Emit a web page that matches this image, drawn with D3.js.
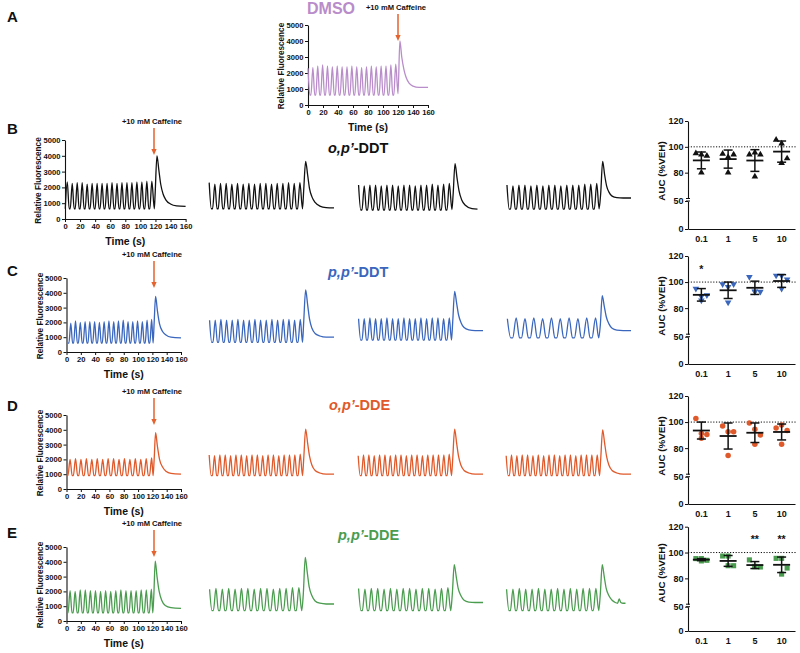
<!DOCTYPE html>
<html><head><meta charset="utf-8">
<script src="https://cdn.jsdelivr.net/npm/d3@7"></script>
<style>
body{margin:0;background:#fff}
svg{display:block}
text{font-family:"Liberation Sans",Arial,Helvetica,sans-serif;font-weight:bold;fill:#111}
</style>
</head><body>
<svg id="c" width="800" height="653"></svg>
<script>
// ---------------- DATA ----------------
const panelLetters = ["A","B","C","D","E"];
const titleItalic = ["", "o,p\u2019", "p,p\u2019", "o,p\u2019", "p,p\u2019"];
const titleRest   = ["DMSO", "-DDT", "-DDT", "-DDE", "-DDE"];
const caffeineLabel = "+10 mM Caffeine";
const fluorTicks = [0,1000,2000,3000,4000,5000];
const timeTicks  = [0,20,40,60,80,100,120,140,160];
const doses = ["0.1","1","5","10"];
const aucLowTicks = [0,50];
const aucHighTicks = [80,100,120];

// calcium traces: peak times (s), peak values, trough level, caffeine transient
const traceA  = {peakT:[0,6.5,13,19.5,26,32.5,39,45.5,52,58.5,65,71.5,78,84.5,91,97.5,104,110.5,117],
  peakV:[2300,2350,2450,2500,2450,2400,2450,2400,2400,2450,2400,2350,2400,2450,2400,2450,2450,2500,2550], trough:620,
  spikeT:[120,122.5,125,128,131,135,140,148,160], spikeV:[700,4000,3000,2200,1700,1350,1180,1100,1100]};

const traceB1 = {peakT:[3,9.6,16.2,22.8,29.4,36,42.6,49.2,55.8,62.4,69,75.6,82.2,88.8,95.4,102,108.6,115.2],
  peakV:[2350,2250,2300,2300,2200,2250,2250,2250,2250,2300,2250,2300,2300,2300,2350,2350,2400,2400], trough:650,
  spikeT:[118.5,119.5,122,124.5,127,130,134,140,148,160], spikeV:[650,1500,4000,3100,2200,1600,1200,950,830,800]};
const traceB2 = {peakT:[1.5,8.7,15.9,23.1,30.3,37.5,44.7,51.9,59.1,66.3,73.5,80.7,87.9,95.1,102.3,109.5,116.7],
  peakV:[2300,2200,2250,2250,2200,2250,2200,2250,2200,2250,2250,2200,2250,2250,2300,2250,2300], trough:650,
  spikeT:[120,121.5,124,126.5,129,132,136,142,150,160], spikeV:[650,1800,3650,2800,1900,1400,1050,820,720,700]};
const traceB3 = {peakT:[2,9.2,16.4,23.6,30.8,38,45.2,52.4,59.6,66.8,74,81.2,88.4,95.6,102.8,110,117.2],
  peakV:[2150,2100,2150,2150,2100,2150,2150,2100,2150,2150,2100,2150,2150,2200,2150,2200,2250], trough:570,
  spikeT:[120.5,122,124.5,127,129.5,133,138,146,153], spikeV:[600,1500,3500,2600,1800,1200,850,650,620]};
const traceB4 = {peakT:[2.5,10.1,17.7,25.3,32.9,40.5,48.1,55.7,63.3,70.9,78.5,86.1,93.7,101.3,108.9,116.5],
  peakV:[2150,2100,2150,2150,2100,2150,2100,2150,2150,2100,2150,2150,2150,2200,2200,2250], trough:620,
  spikeT:[119.5,121.5,124,126.5,129,132,136,142,150,160], spikeV:[650,1600,3650,2800,2100,1700,1450,1350,1330,1330]};

const traceC1 = {peakT:[6,12.6,19.3,26,32.6,39.3,46,52.6,59.3,66,72.6,79.3,86,92.6,99.3,106,112.6,119],
  peakV:[1950,2100,2000,2050,2050,2050,2000,2050,2100,2050,2100,2150,2050,2050,2100,2050,2150,2200], trough:600,
  spikeT:[121,122.5,124.5,127,130,134,139,146,160], spikeV:[600,2000,3750,2800,1900,1400,1150,1000,950]};
const traceC2 = {peakT:[2,9.2,16.4,23.6,30.8,38,45.2,52.4,59.6,66.8,74,81.2,88.4,95.6,102.8,110,117.2],
  peakV:[2150,2150,2200,2150,2150,2200,2150,2150,2200,2150,2150,2200,2150,2200,2200,2150,2200], trough:650,
  spikeT:[120,121.5,124,126.5,129,132,136,142,150,160], spikeV:[650,2000,4200,3200,2200,1600,1250,1080,1000,1000]};
const traceC3 = {peakT:[2,9.2,16.4,23.6,30.8,38,45.2,52.4,59.6,66.8,74,81.2,88.4,95.6,102.8,110,117.2],
  peakV:[2250,2250,2300,2250,2250,2300,2250,2250,2300,2250,2250,2300,2250,2300,2300,2250,2300], trough:800,
  spikeT:[120,121.5,124,126.5,129,132,136,142,150,160], spikeV:[800,2000,4100,3300,2500,2000,1650,1500,1450,1450]};
const traceC4 = {peakT:[3,14.2,25.4,36.6,47.8,59,70.2,81.4,92.6,103.8,115],
  peakV:[2250,2300,2250,2300,2250,2300,2250,2300,2250,2300,2300], trough:950,
  spikeT:[119,121,123.5,126,128.5,132,136,142,150,160], spikeV:[950,1800,3800,3100,2400,1900,1600,1480,1450,1450]};

const traceD1 = {peakT:[5,12.6,20.2,27.8,35.4,43,50.6,58.2,65.8,73.4,81,88.6,96.2,103.8,111.4,119],
  peakV:[2000,2050,2000,2050,2000,2050,2000,2050,2050,2000,2050,2000,2050,2000,2050,2100], trough:900,
  spikeT:[121,122.5,124.5,127,130,134,139,146,160], spikeV:[900,2000,3800,2900,2000,1500,1200,1050,1000]};
const traceD2 = {peakT:[1.5,8.3,15.1,21.9,28.7,35.5,42.3,49.1,55.9,62.7,69.5,76.3,83.1,89.9,96.7,103.5,110.3,117.1],
  peakV:[2300,2250,2300,2300,2250,2300,2300,2250,2300,2300,2250,2300,2300,2250,2300,2300,2300,2350], trough:900,
  spikeT:[120,121.5,124,126.5,129,132,136,142,150,160], spikeV:[900,2000,4050,3100,2200,1600,1250,1080,1000,1000]};
const traceD3 = {peakT:[1.5,8.3,15.1,21.9,28.7,35.5,42.3,49.1,55.9,62.7,69.5,76.3,83.1,89.9,96.7,103.5,110.3,117.1],
  peakV:[2250,2300,2300,2250,2300,2300,2250,2300,2300,2250,2300,2300,2250,2300,2300,2300,2300,2350], trough:900,
  spikeT:[120,121.5,124,126.5,129,132,136,142,150,160], spikeV:[900,2000,4050,3100,2200,1600,1250,1080,1000,1000]};
const traceD4 = {peakT:[1.5,8.3,15.1,21.9,28.7,35.5,42.3,49.1,55.9,62.7,69.5,76.3,83.1,89.9,96.7,103.5,110.3,117.1],
  peakV:[2250,2300,2250,2300,2300,2250,2300,2250,2300,2300,2250,2300,2300,2250,2300,2300,2300,2300], trough:900,
  spikeT:[120,121.5,124,126.5,129,132,136,142,150,160], spikeV:[900,2000,4000,3100,2200,1600,1250,1080,1000,1000]};

const traceE1 = {peakT:[5,12.1,19.2,26.3,33.4,40.5,47.6,54.7,61.8,68.9,76,83.1,90.2,97.3,104.4,111.5,118.6],
  peakV:[2050,2000,2100,2100,2050,2050,2000,2050,2000,2050,2100,2050,2050,2050,2100,2100,2150], trough:550,
  spikeT:[120.5,122,124,126.5,129.5,133,138,146,160], spikeV:[550,1700,4050,3000,2000,1400,1050,900,850]};
const traceE2 = {peakT:[2,10.1,18.2,26.3,34.4,42.5,50.6,58.7,66.8,74.9,83,91.1,99.2,107.3,115.4],
  peakV:[2150,2200,2150,2200,2150,2200,2200,2150,2200,2200,2150,2200,2200,2250,2250], trough:700,
  spikeT:[119,121,123.5,126,128.5,132,136,142,150,160], spikeV:[700,1800,4300,3300,2300,1700,1350,1200,1150,1150]};
const traceE3 = {peakT:[2,10.1,18.2,26.3,34.4,42.5,50.6,58.7,66.8,74.9,83,91.1,99.2,107.3,115.4],
  peakV:[2200,2150,2200,2200,2150,2200,2150,2200,2200,2150,2200,2200,2150,2200,2250], trough:700,
  spikeT:[119,121,123.5,126,128.5,132,136,142,150,160], spikeV:[700,1800,3800,3000,2200,1700,1400,1280,1250,1250]};
const traceE4 = {peakT:[2,10.1,18.2,26.3,34.4,42.5,50.6,58.7,66.8,74.9,83,91.1,99.2,107.3,115.4],
  peakV:[2150,2150,2200,2150,2150,2200,2150,2150,2200,2150,2200,2150,2200,2200,2200], trough:700,
  spikeT:[119,121,123.5,126,128.5,132,136,140,143,145,147,150,153], spikeV:[700,1800,3800,3000,2200,1700,1400,1250,1200,1500,1250,1200,1200]};

const rowTraces = [[traceA],[traceB1,traceB2,traceB3,traceB4],[traceC1,traceC2,traceC3,traceC4],
                   [traceD1,traceD2,traceD3,traceD4],[traceE1,traceE2,traceE3,traceE4]];

// AUC (% of vehicle) dot plots, 4 replicates per dose
const aucPtsB = [[95,94,93,80],[94.5,92,94,80],[94,95.5,94,77],[105.5,102.5,91,87.5]];
const aucMeanB = [89.5,90.5,89.4,96.3];
const aucSdB   = [6.5,7,8.4,8.2];
const aucPtsC = [[95,89,90,86],[98.3,96.3,98.3,84.4],[104,92.7,92.7,92.9],[105,105,102,94.9]];
const aucMeanC = [90.2,93.7,95.6,100.8];
const aucSdC   = [4.8,6.3,5.1,4.9];
const aucPtsD = [[102.8,91.3,90.5,87.5],[97,92.5,92.5,74.3],[99.3,94.5,90,83],[95.5,97.8,93.5,83]];
const aucMeanD = [93.5,89.3,91.8,92.4];
const aucSdD   = [6.5,10,7.5,6.1];
const aucPtsE = [[95.3,95.3,94,93.5],[97.3,97.3,89.8,89.8],[94.3,89,88.8,89.3],[95.5,95.5,88,83.3]];
const aucMeanE = [94.5,93.5,90.3,90.5];
const aucSdE   = [0.8,4.2,2.7,6];
const aucStarsC = ["*","","",""];
const aucStarsE = ["","","**","**"];

// ---------------- DRAWING ----------------
const svg = d3.select("#c");
const colors = ["#b98cca","#111111","#3a66bd","#e0592a","#4a9c4f"];
const arrowColor = "#e4632e";

const rows = [
  {letterY:22, y0:105, y5:25,  x0:308, x160:428, titleX:307, titleY:14, titleSize:16, extras:[]},
  {letterY:134, y0:219, y5:140, x0:65, x160:185.6, titleX:328, titleY:153, titleSize:14.5, extras:[208,357,505]},
  {letterY:276, y0:352, y5:278, x0:66.5, x160:181, titleX:328, titleY:277, titleSize:14.5, extras:[208,357,505]},
  {letterY:411, y0:489, y5:415, x0:66.5, x160:181, titleX:329, titleY:410, titleSize:14.5, extras:[208,357,505]},
  {letterY:538, y0:621, y5:547, x0:66.5, x160:181, titleX:338, titleY:540, titleSize:14.5, extras:[208,357,505]}
];

function buildPoints(tr){
  const pts=[];
  tr.peakT.forEach((t,i)=>{
    const gap = i>0 ? t - tr.peakT[i-1] : (tr.peakT[1]-tr.peakT[0]);
    const a = t - 0.62*gap, b = t - 0.4*gap;
    if (a>=0) pts.push([a,tr.trough]);
    if (b>=0) pts.push([b,tr.trough]);
    pts.push([t,tr.peakV[i]]);
  });
  tr.spikeT.forEach((t,i)=>pts.push([t,tr.spikeV[i]]));
  return pts;
}

function drawTrace(g, tr, x, y, color){
  const line = d3.line().x(d=>x(d[0])).y(d=>y(d[1])).curve(d3.curveMonotoneX);
  g.append("path").attr("d", line(buildPoints(tr)))
    .attr("fill","none").attr("stroke",color).attr("stroke-width",1.3).attr("stroke-linejoin","round");
}

function styleAxis(g, fs){
  g.selectAll("path.domain").attr("stroke","#111").attr("stroke-width",1.1);
  g.selectAll(".tick line").attr("stroke","#111").attr("stroke-width",1);
  g.selectAll(".tick text").attr("font-size",fs).attr("font-family",'"Liberation Sans",Arial,sans-serif')
    .attr("font-weight","bold").attr("fill","#111");
}

rows.forEach((r,ri)=>{
  const color = colors[ri];
  svg.append("text").attr("x",7).attr("y",r.letterY).attr("font-size",15).text(panelLetters[ri]);
  const tt = svg.append("text").attr("x",r.titleX).attr("y",r.titleY).attr("font-size",r.titleSize).style("fill",color);
  if (titleItalic[ri]) tt.append("tspan").attr("font-style","italic").text(titleItalic[ri]);
  tt.append("tspan").text(titleRest[ri]);

  const x = d3.scaleLinear().domain([0,160]).range([r.x0,r.x160]);
  const y = d3.scaleLinear().domain([0,5000]).range([r.y0,r.y5]);
  const g = svg.append("g");
  const ya = g.append("g").attr("transform",`translate(${r.x0},0)`)
     .call(d3.axisLeft(y).tickValues(fluorTicks).tickSize(3).tickSizeOuter(0).tickPadding(1.5).tickFormat(d3.format("d")));
  styleAxis(ya, 7.6);
  const xa = g.append("g").attr("transform",`translate(0,${r.y0})`)
     .call(d3.axisBottom(x).tickValues(timeTicks).tickSize(3).tickSizeOuter(0).tickPadding(1.5));
  styleAxis(xa, 7.6);
  g.append("text").attr("transform",`translate(${r.x0-24},${(r.y0+r.y5)/2+1}) rotate(-90)`)
    .attr("text-anchor","middle").attr("font-size",8.2).text("Relative Fluorescence");
  g.append("text").attr("x",(r.x0+r.x160)/2).attr("y",r.y0+26).attr("text-anchor","middle")
    .attr("font-size",10.5).text("Time (s)");

  const traces = rowTraces[ri];
  drawTrace(g, traces[0], x, y, color);
  r.extras.forEach((xs,k)=>{
    const xe = d3.scaleLinear().domain([0,160]).range([xs, xs+126]);
    drawTrace(g, traces[k+1], xe, y, color);
  });

  const ax = ri===0 ? 398 : 154;
  svg.append("text").attr("x",ax-2).attr("y",r.y0-95).attr("text-anchor","middle")
    .attr("font-size",7.6).text(caffeineLabel);
  svg.append("line").attr("x1",ax).attr("x2",ax).attr("y1",r.y0-91).attr("y2",r.y0-69)
    .attr("stroke",arrowColor).attr("stroke-width",1.5);
  svg.append("path").attr("d",`M${ax-2.6},${r.y0-70}L${ax+2.6},${r.y0-70}L${ax},${r.y0-64}Z`).attr("fill",arrowColor);
});

// ---- dot plots ----
const dotRows = [
  {pts:aucPtsB, mean:aucMeanB, sd:aucSdB, stars:null, y0:229, y50:201, y120:121, shape:"triUp"},
  {pts:aucPtsC, mean:aucMeanC, sd:aucSdC, stars:aucStarsC, y0:364, y50:336.7, y120:256, shape:"triDown"},
  {pts:aucPtsD, mean:aucMeanD, sd:aucSdD, stars:null, y0:504, y50:476.7, y120:396, shape:"circle"},
  {pts:aucPtsE, mean:aucMeanE, sd:aucSdE, stars:aucStarsE, y0:631, y50:606.7, y120:526.7, shape:"square"}
];
const axX = 688, axR = 795;
const xb = d3.scaleBand().domain(doses).range([axX, axR]);
const jitter = [-5.5, 0, 5.5, 0];

dotRows.forEach((d,i)=>{
  const color = colors[i+1];
  const low = d3.scaleLinear().domain([0,50]).range([d.y0,d.y50]);
  const high = d3.scaleLinear().domain([60,120]).range([d.y50-2.5,d.y120]);
  const yA = v => v<=55 ? low(v) : high(v);
  const g = svg.append("g");
  const la = g.append("g").attr("transform",`translate(${axX},0)`)
    .call(d3.axisLeft(low).tickValues(aucLowTicks).tickSize(3).tickSizeOuter(0).tickPadding(1.5));
  styleAxis(la, 9);
  const ha = g.append("g").attr("transform",`translate(${axX},0)`)
    .call(d3.axisLeft(high).tickValues(aucHighTicks).tickSize(3).tickSizeOuter(0).tickPadding(1.5));
  styleAxis(ha, 9);
  g.append("line").attr("x1",axX-2).attr("x2",axX+2).attr("y1",d.y50).attr("y2",d.y50).attr("stroke","#111").attr("stroke-width",1);
  g.append("line").attr("x1",axX-2).attr("x2",axX+2).attr("y1",d.y50-2.5).attr("y2",d.y50-2.5).attr("stroke","#111").attr("stroke-width",1);
  const xa = g.append("g").attr("transform",`translate(0,${d.y0})`)
    .call(d3.axisBottom(xb).tickSize(0).tickSizeOuter(0).tickPadding(7));
  styleAxis(xa, 9);
  g.append("text").attr("transform",`translate(665,${d.y0-58}) rotate(-90)`).attr("text-anchor","middle")
    .attr("font-size",9.8).text("AUC (%VEH)");
  g.append("line").attr("x1",axX).attr("x2",797).attr("y1",yA(100)).attr("y2",yA(100))
    .attr("stroke","#111").attr("stroke-width",1).attr("stroke-dasharray","1.2,1.6");

  doses.forEach((dose,k)=>{
    const cx = xb(dose)+xb.bandwidth()/2;
    d.pts[k].forEach((v,j)=>{
      const px = cx + jitter[j], py = yA(v);
      let sym;
      if (d.shape==="circle") sym = d3.symbol(d3.symbolCircle, 24)();
      else if (d.shape==="square") sym = d3.symbol(d3.symbolSquare, 26)();
      else sym = d3.symbol(d3.symbolTriangle, 19)();
      const rot = d.shape==="triDown" ? " rotate(180)" : "";
      g.append("path").attr("d",sym).attr("transform",`translate(${px},${py})${rot}`).attr("fill",color);
    });
    const m = d.mean[k], s = d.sd[k];
    g.append("line").attr("x1",cx-8.5).attr("x2",cx+8.5).attr("y1",yA(m)).attr("y2",yA(m)).attr("stroke","#111").attr("stroke-width",1.8);
    g.append("line").attr("x1",cx).attr("x2",cx).attr("y1",yA(m-s)).attr("y2",yA(m+s)).attr("stroke","#111").attr("stroke-width",1.5);
    [m-s,m+s].forEach(v=>g.append("line").attr("x1",cx-4.5).attr("x2",cx+4.5).attr("y1",yA(v)).attr("y2",yA(v)).attr("stroke","#111").attr("stroke-width",1.5));
    if (d.stars && d.stars[k]) g.append("text").attr("x",cx).attr("y",yA(107)).attr("text-anchor","middle")
      .attr("font-size",10.5).text(d.stars[k]);
  });
});
</script>
</body></html>
